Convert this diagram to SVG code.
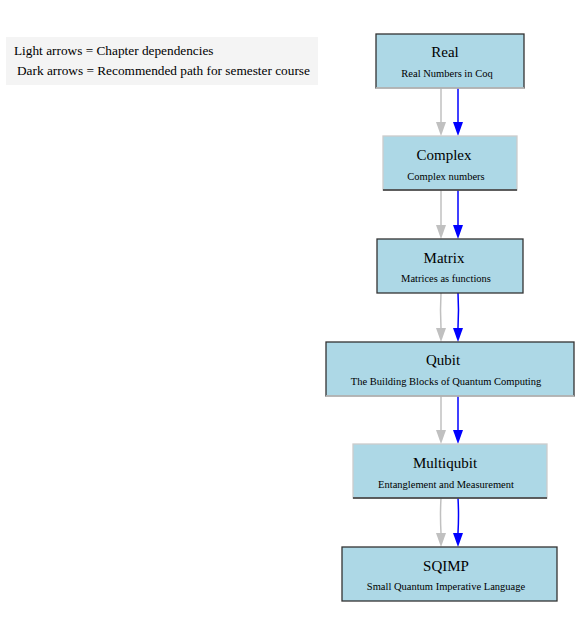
<svg xmlns="http://www.w3.org/2000/svg" width="579" height="636" viewBox="0 0 579 636">
<defs>
<style>
.box{fill:#add8e6;stroke-width:1.3}
.d{stroke:#333}
.l{stroke:#ccc}
text{font-family:'Liberation Serif','Times New Roman',Times,serif;fill:#000}
.t{font-size:15px;text-anchor:middle}
.s{font-size:10.5px;text-anchor:middle}
.lg{font-size:13.3px}
.g{stroke:#c0c0c0;stroke-width:1.5;fill:none}
.b{stroke:#0000ff;stroke-width:1.5;fill:none}
</style>
</defs>
<rect width="579" height="636" fill="#fff"/>
<g id="legend">
<rect x="6" y="37" width="312" height="48" fill="#f4f4f4"/>
<text class="lg" x="14" y="55">Light arrows = Chapter dependencies</text>
<text class="lg" x="17" y="75">Dark arrows = Recommended path for semester course</text>
</g>
<g id="connectors">
<path class="g" d="M441,88 V122"/><path d="M436,122 L446,122 L441,136 Z" fill="#c0c0c0"/>
<path class="b" d="M458,88 V122"/><path d="M453,122 L463,122 L458,136 Z" fill="#0000ff"/>
<path class="g" d="M441,190 V225"/><path d="M436,225 L446,225 L441,239 Z" fill="#c0c0c0"/>
<path class="b" d="M458,190 V225"/><path d="M453,225 L463,225 L458,239 Z" fill="#0000ff"/>
<path class="g" d="M441,293 Q440,310 441,328"/><path d="M436,328 L446,328 L441,342 Z" fill="#c0c0c0"/>
<path class="b" d="M458,293 Q459,310 458,328"/><path d="M453,328 L463,328 L458,342 Z" fill="#0000ff"/>
<path class="g" d="M441,396 V430"/><path d="M436,430 L446,430 L441,444 Z" fill="#c0c0c0"/>
<path class="b" d="M458,396 V430"/><path d="M453,430 L463,430 L458,444 Z" fill="#0000ff"/>
<path class="g" d="M441,498 Q440,515 441,533"/><path d="M436,533 L446,533 L441,547 Z" fill="#c0c0c0"/>
<path class="b" d="M458,498 Q459,515 458,533"/><path d="M453,533 L463,533 L458,547 Z" fill="#0000ff"/>
</g>
<g id="real">
<rect class="box d" x="376" y="34" width="148" height="54"/>
<line class="l" x1="376" y1="88" x2="524" y2="88" stroke-width="1.3"/>
<text class="t" x="445" y="57">Real</text>
<text class="s" x="447" y="77">Real Numbers in Coq</text>
</g>
<g id="complex">
<rect class="box l" x="383" y="136" width="134" height="54"/>
<line class="d" x1="383" y1="190" x2="517" y2="190" stroke-width="1.3"/>
<text class="t" x="444" y="160">Complex</text>
<text class="s" x="446" y="180">Complex numbers</text>
</g>
<g id="matrix">
<rect class="box d" x="377" y="239" width="146" height="54"/>
<text class="t" x="444" y="263">Matrix</text>
<text class="s" x="446" y="282">Matrices as functions</text>
</g>
<g id="qubit">
<rect class="box d" x="326" y="342" width="248" height="54"/>
<line class="l" x1="326" y1="396" x2="574" y2="396" stroke-width="1.3"/>
<text class="t" x="443" y="365">Qubit</text>
<text class="s" x="446" y="385">The Building Blocks of Quantum Computing</text>
</g>
<g id="multiqubit">
<rect class="box l" x="353" y="444" width="194" height="54"/>
<line class="d" x1="353" y1="498" x2="547" y2="498" stroke-width="1.3"/>
<text class="t" x="445" y="468">Multiqubit</text>
<text class="s" x="446" y="488">Entanglement and Measurement</text>
</g>
<g id="sqimp">
<rect class="box d" x="342" y="547" width="215" height="54"/>
<text class="t" x="446" y="571">SQIMP</text>
<text class="s" x="446" y="590">Small Quantum Imperative Language</text>
</g>
</svg>
